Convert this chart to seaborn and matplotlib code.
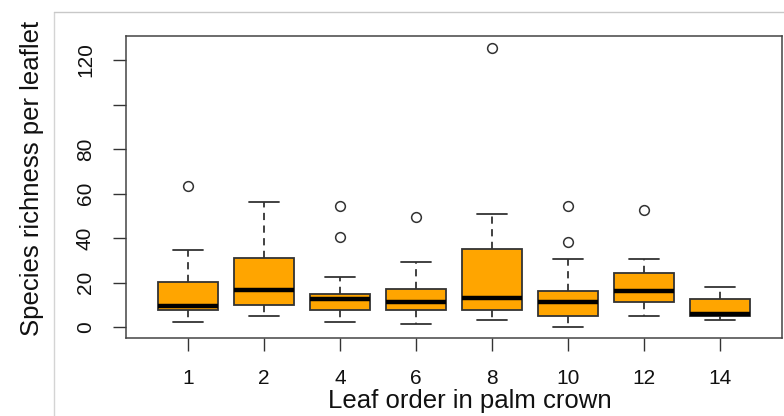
import seaborn as sns
import matplotlib.pyplot as plt
from matplotlib.lines import Line2D

# leaf order groups and box summary values
leaf_order = ["1", "2", "4", "6", "8", "10", "12", "14"]
whisker_low = [2.4, 5.1, 2.5, 1.3, 3.1, 0.0, 5.1, 3.1]
q1 = [7.9, 10.0, 7.5, 7.5, 7.5, 5.1, 11.1, 5.1]
median = [9.6, 16.5, 12.4, 11.2, 13.2, 11.2, 16.3, 6.1]
q3 = [20.1, 31.2, 15.0, 16.9, 34.9, 16.2, 24.3, 12.4]
whisker_high = [34.5, 56.2, 22.5, 29.4, 50.8, 30.6, 30.6, 18.1]
outliers = [[63.2], [], [54.4, 40.6], [49.4], [125.2], [54.4, 38.2], [52.4], []]

y_ticks = [0, 20, 40, 60, 80, 100, 120]
y_ticklabels = ["0", "20", "40", "60", "80", "", "120"]

sns.set_style("white")
plt.rcParams["font.family"] = ["Liberation Sans", "DejaVu Sans"]

fig = plt.figure(figsize=(7.84, 4.16), dpi=100)
ax = fig.add_axes([126 / 784, 1 - 338 / 416, 656 / 784, 302 / 416])

stats = []
for i, lab in enumerate(leaf_order):
    stats.append({"label": lab, "whislo": whisker_low[i], "q1": q1[i], "med": median[i],
                  "q3": q3[i], "whishi": whisker_high[i], "fliers": outliers[i]})

edge = "#333333"
ax.bxp(stats, positions=range(len(leaf_order)), widths=0.8, capwidths=0.4,
       patch_artist=True,
       boxprops=dict(facecolor="#FFA500", edgecolor=edge, linewidth=1.3),
       whiskerprops=dict(color=edge, linewidth=1.3, linestyle=(0, (4, 3))),
       capprops=dict(color=edge, linewidth=1.3),
       medianprops=dict(color="black", linewidth=3.2, solid_capstyle="butt"),
       flierprops=dict(marker="o", markerfacecolor="none", markeredgecolor=edge,
                       markersize=7, markeredgewidth=1.1))

ax.set_xlim(-0.816, 7.816)
ax.set_ylim(-4.9, 130.8)
ax.set_yticks(y_ticks)
ax.set_yticklabels(y_ticklabels, rotation=90, va="center")
ax.set_xticks(range(len(leaf_order)))
ax.set_xticklabels(leaf_order)

for s in ax.spines.values():
    s.set_color("#444444")
    s.set_linewidth(1.1)
ax.tick_params(axis="both", direction="out", length=9.4, width=1.0, color="#333333",
               labelsize=15, labelcolor="#111111", pad=13)
ax.tick_params(axis="x", bottom=True)
ax.tick_params(axis="y", left=True)

ax.set_xlabel("Leaf order in palm crown", fontsize=18.5, color="#111111")
ax.xaxis.set_label_coords((470 - 126) / 656, -(389 - 338) / 302)
ax.set_ylabel("Species richness per leaflet", fontsize=18.5, color="#111111")
ax.yaxis.set_label_coords(-(126 - 44) / 656, (338 - 178) / 302)

# light grey frame lines of the original screenshot
fig.add_artist(Line2D([54 / 784, 54 / 784], [0, 1 - 12 / 416], color="#d4d4d4", lw=1.0))
fig.add_artist(Line2D([54 / 784, 1], [1 - 12 / 416, 1 - 12 / 416], color="#c8c8c8", lw=1.0))

plt.savefig("out.png", dpi=100)
